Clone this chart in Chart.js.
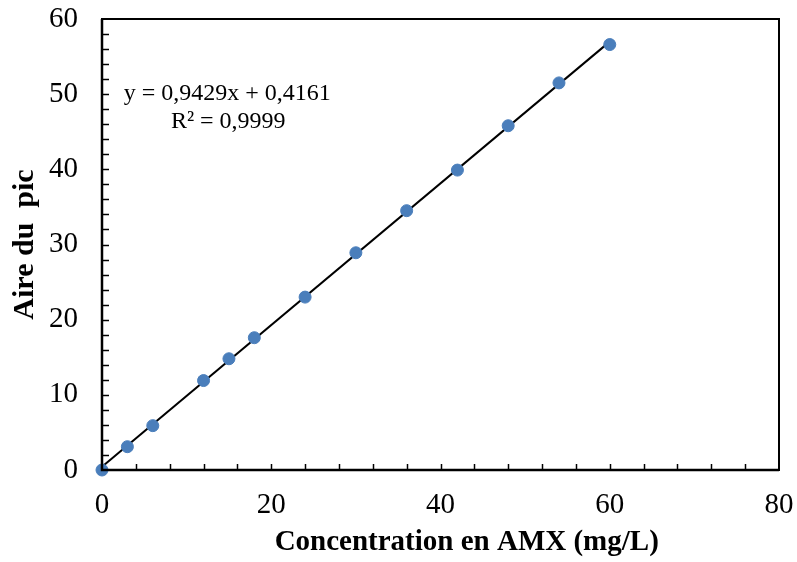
<!DOCTYPE html>
<html>
<head>
<meta charset="utf-8">
<script src="https://cdn.jsdelivr.net/npm/chart.js@4/dist/chart.umd.min.js"></script>
<style>
html,body{margin:0;padding:0;background:#fff;}
#wrap{width:797px;height:562px;position:relative;}
</style>
</head>
<body>
<div id="wrap"><canvas id="c" width="797" height="562"></canvas></div>
<script>
const concentrations = [0, 3, 6, 12, 15, 18, 24, 30, 36, 42, 48, 54, 60];
const peakAreas = [0, 3.1, 5.9, 11.9, 14.8, 17.6, 23.0, 28.9, 34.5, 39.9, 45.8, 51.5, 56.6];
const trendX = [0, 60];
const trendY = [0.42, 56.99];
const xTickLabels = [0, 20, 40, 60, 80];
const yTickLabels = [0, 10, 20, 30, 40, 50, 60];
const equationLines = ["y = 0,9429x + 0,4161", "R² = 0,9999"];
const xTitle = "Concentration en AMX (mg/L)";
const yTitle = "Aire du  pic";

const serif = "'Liberation Serif', 'Times New Roman', serif";

const framePlugin = {
  id: 'frame',
  afterDraw(chart) {
    const {ctx, chartArea: a, scales} = chart;
    const xs = scales.x, ys = scales.y;
    ctx.save();
    ctx.strokeStyle = '#000';
    ctx.lineWidth = 1.5;
    for (let v = 4; v < 80; v += 4) {
      const px = Math.round(xs.getPixelForValue(v)) + 0.5;
      ctx.beginPath(); ctx.moveTo(px, a.bottom); ctx.lineTo(px, a.bottom - 6); ctx.stroke();
    }
    for (let v = 2; v < 60; v += 2) {
      const py = Math.round(ys.getPixelForValue(v)) + 0.5;
      ctx.beginPath(); ctx.moveTo(a.left, py); ctx.lineTo(a.left + 7, py); ctx.stroke();
    }
    ctx.lineWidth = 2;
    ctx.strokeRect(a.left, a.top, a.right - a.left, a.bottom - a.top);
    ctx.lineWidth = 2.5;
    ctx.beginPath();
    ctx.moveTo(a.left, a.top); ctx.lineTo(a.left, a.bottom); ctx.lineTo(a.right, a.bottom);
    ctx.stroke();
    ctx.fillStyle = '#000';
    ctx.font = '24px ' + serif;
    ctx.textAlign = 'center';
    ctx.textBaseline = 'alphabetic';
    const cx = xs.getPixelForValue(14.8);
    ctx.fillText(equationLines[0], cx, ys.getPixelForValue(49.2));
    ctx.fillText(equationLines[1], cx + 1, ys.getPixelForValue(45.5));
    // x-axis title (offset right of centre as in the original)
    ctx.font = 'bold 29px ' + serif;
    ctx.fillText(xTitle, xs.getPixelForValue(43.1), a.bottom + 80);
    ctx.restore();
  }
};

new Chart(document.getElementById('c'), {
  type: 'scatter',
  data: {
    datasets: [
      {
        label: 'trend',
        type: 'line',
        data: trendX.map((x, i) => ({x: x, y: trendY[i]})),
        borderColor: '#000',
        borderWidth: 2,
        pointRadius: 0,
        fill: false,
        order: 2
      },
      {
        label: 'Aire du pic',
        data: concentrations.map((x, i) => ({x: x, y: peakAreas[i]})),
        backgroundColor: '#4a7ebb',
        borderColor: '#4a7ebb',
        pointRadius: 6,
        order: 1
      }
    ]
  },
  options: {
    responsive: false,
    animation: false,
    events: [],
    clip: false,
    layout: {padding: {left: 0, right: 18, top: 19, bottom: 0}},
    plugins: {legend: {display: false}, tooltip: {enabled: false}},
    scales: {
      x: {
        type: 'linear', min: 0, max: 80,
        afterBuildTicks(s) { s.ticks = xTickLabels.map(v => ({value: v})); },
        afterFit(s) { s.height = 92; s.paddingLeft = 0; s.paddingRight = 0; },
        grid: {display: false, drawTicks: false},
        border: {display: false},
        ticks: {color: '#000', font: {family: serif, size: 29}, padding: 18, maxRotation: 0},
        title: {display: false}
      },
      y: {
        type: 'linear', min: 0, max: 60,
        afterBuildTicks(s) { s.ticks = yTickLabels.map(v => ({value: v})); },
        afterFit(s) { s.width = 102; s.paddingTop = 0; s.paddingBottom = 0; },
        grid: {display: false, drawTicks: false},
        border: {display: false},
        ticks: {color: '#000', font: {family: serif, size: 29}, padding: 24},
        title: {display: true, text: yTitle, color: '#000',
                font: {family: serif, size: 30, weight: 'bold'}, padding: {top: 7, bottom: 0}}
      }
    }
  },
  plugins: [framePlugin]
});
</script>
</body>
</html>
